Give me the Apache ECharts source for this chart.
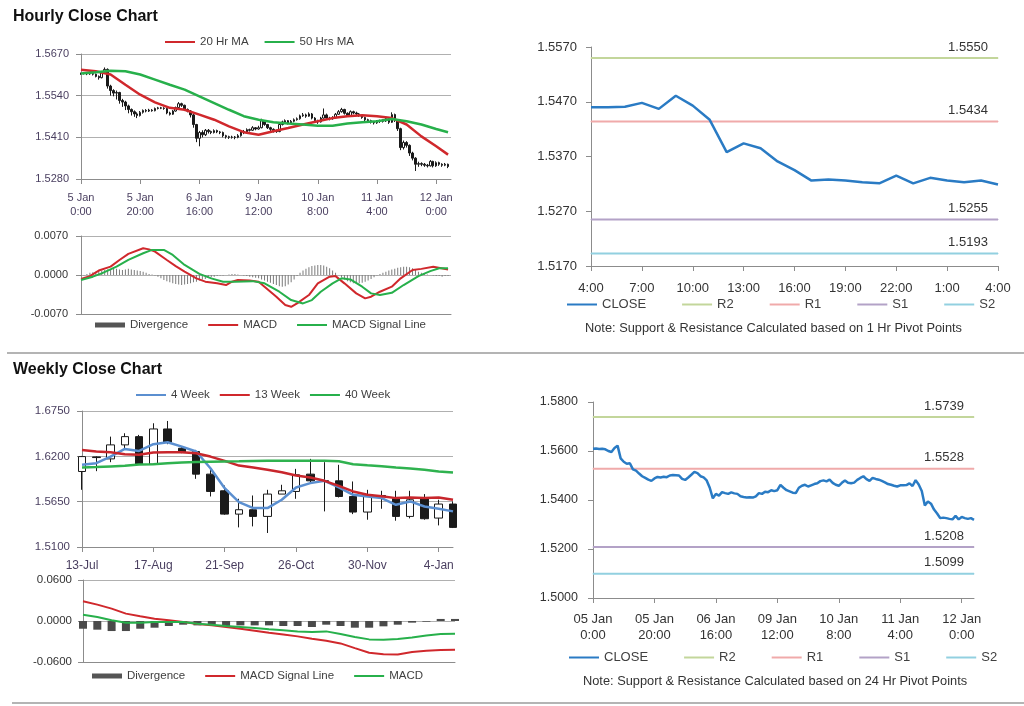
<!DOCTYPE html>
<html><head><meta charset="utf-8">
<script src="https://cdn.jsdelivr.net/npm/echarts@6/dist/echarts.min.js"></script>
<style>html,body{margin:0;padding:0;background:#fff}#c{width:1024px;height:706px}</style>
</head><body><div id="c"></div>
<script>
// ---------------- DATA ----------------
// Hourly closes, 5 Jan 0:00 ... 12 Jan 4:00 (125 trading hours)
const hourlyClose = [1.5609,1.5610,1.5608,1.5609,1.5607,1.5600,1.5596,1.5612,1.5622,1.5570,
 1.5556,1.5548,1.5550,1.5525,1.5520,1.5508,1.5497,1.5490,1.5483,1.5478,
 1.5488,1.5494,1.5492,1.5495,1.5493,1.5500,1.5502,1.5501,1.5500,1.5486,
 1.5482,1.5492,1.5503,1.5515,1.5510,1.5497,1.5492,1.5480,1.5450,1.5407,
 1.5425,1.5418,1.5432,1.5428,1.5425,1.5431,1.5427,1.5425,1.5415,1.5412,
 1.5410,1.5411,1.5410,1.5415,1.5428,1.5425,1.5434,1.5432,1.5440,1.5436,
 1.5440,1.5462,1.5450,1.5440,1.5435,1.5430,1.5428,1.5450,1.5458,1.5462,
 1.5455,1.5460,1.5465,1.5468,1.5477,1.5480,1.5476,1.5483,1.5470,1.5462,
 1.5458,1.5470,1.5480,1.5470,1.5468,1.5471,1.5482,1.5490,1.5497,1.5485,
 1.5478,1.5490,1.5486,1.5483,1.5478,1.5472,1.5465,1.5462,1.5458,1.5455,
 1.5460,1.5460,1.5461,1.5468,1.5457,1.5481,1.5463,1.5437,1.5378,1.5394,
 1.5385,1.5361,1.5345,1.5326,1.5328,1.5326,1.5323,1.5321,1.5335,1.5321,
 1.5331,1.5326,1.5323,1.5326,1.5319];
const hourlyHigh = [1.5612,1.5613,1.5612,1.5611,1.5611,1.5609,1.5603,1.5615,1.5628,1.5625,
 1.5574,1.5560,1.5556,1.5552,1.5530,1.5524,1.5512,1.5500,1.5494,1.5488,
 1.5492,1.5497,1.5498,1.5499,1.5498,1.5503,1.5505,1.5505,1.5504,1.5502,
 1.5490,1.5495,1.5506,1.5520,1.5518,1.5512,1.5500,1.5495,1.5483,1.5452,
 1.5430,1.5432,1.5436,1.5436,1.5431,1.5435,1.5434,1.5430,1.5428,1.5418,
 1.5415,1.5415,1.5414,1.5420,1.5432,1.5433,1.5438,1.5437,1.5445,1.5442,
 1.5446,1.5468,1.5464,1.5452,1.5443,1.5438,1.5434,1.5454,1.5462,1.5466,
 1.5464,1.5464,1.5469,1.5472,1.5481,1.5486,1.5484,1.5488,1.5486,1.5473,
 1.5465,1.5474,1.5500,1.5484,1.5474,1.5476,1.5486,1.5495,1.5502,1.5499,
 1.5488,1.5494,1.5493,1.5490,1.5486,1.5480,1.5474,1.5468,1.5465,1.5461,
 1.5464,1.5465,1.5466,1.5472,1.5470,1.5488,1.5484,1.5466,1.5440,1.5400,
 1.5398,1.5388,1.5365,1.5348,1.5334,1.5332,1.5330,1.5327,1.5339,1.5337,
 1.5335,1.5334,1.5329,1.5330,1.5328];
const hourlyLow = [1.5605,1.5606,1.5604,1.5605,1.5603,1.5597,1.5590,1.5594,1.5610,1.5562,
 1.5540,1.5538,1.5528,1.5515,1.5505,1.5495,1.5485,1.5478,1.5474,1.5470,
 1.5475,1.5484,1.5488,1.5489,1.5490,1.5491,1.5497,1.5498,1.5496,1.5482,
 1.5478,1.5480,1.5490,1.5500,1.5505,1.5492,1.5488,1.5472,1.5440,1.5395,
 1.5382,1.5410,1.5414,1.5422,1.5420,1.5422,1.5423,1.5420,1.5410,1.5406,
 1.5405,1.5406,1.5404,1.5407,1.5412,1.5420,1.5422,1.5428,1.5430,1.5432,
 1.5434,1.5438,1.5446,1.5436,1.5430,1.5425,1.5424,1.5426,1.5447,1.5455,
 1.5450,1.5452,1.5457,1.5462,1.5465,1.5474,1.5471,1.5474,1.5466,1.5458,
 1.5452,1.5456,1.5468,1.5466,1.5463,1.5465,1.5469,1.5480,1.5487,1.5481,
 1.5474,1.5476,1.5482,1.5479,1.5474,1.5468,1.5460,1.5457,1.5453,1.5450,
 1.5452,1.5455,1.5456,1.5458,1.5452,1.5455,1.5458,1.5430,1.5370,1.5372,
 1.5378,1.5352,1.5338,1.5305,1.5318,1.5320,1.5318,1.5316,1.5319,1.5316,
 1.5318,1.5321,1.5318,1.5320,1.5314];
// moving averages, [hour index, value]
const ma20Hr = [[0,1.5621],[5,1.5616],[10,1.5606],[15,1.5574],[20,1.5543],[25,1.5519],[30,1.5502],[35,1.5496],[40,1.5481],[45,1.5465],[50,1.5444],[55,1.5426],[60,1.5418],[65,1.5429],[70,1.5439],[75,1.5450],[80,1.5460],[85,1.5470],[90,1.5476],[95,1.5479],[100,1.5476],[105,1.5470],[110,1.5450],[115,1.5413],[120,1.5382],[124,1.5356]];
const ma50Hr = [[0,1.5609],[5,1.5613],[10,1.5618],[15,1.5616],[20,1.5606],[25,1.5590],[30,1.5574],[35,1.5559],[40,1.5538],[45,1.5517],[50,1.5496],[55,1.5476],[60,1.5465],[65,1.5457],[70,1.5453],[75,1.5450],[80,1.5446],[85,1.5446],[90,1.5453],[95,1.5457],[100,1.5460],[105,1.5467],[110,1.5460],[115,1.5450],[120,1.5436],[124,1.5426]];
// hourly MACD
const hourlyMacd = [[0,-0.0007],[3,-0.0002],[6,0.0008],[10,0.0015],[13,0.0027],[16,0.0038],[21,0.0048],[23,0.0046],[25,0.0042],[29,0.0027],[32,0.0016],[35,0.0006],[39,-0.0006],[42,-0.0012],[46,-0.0015],[49,-0.0018],[51,-0.0012],[53,-0.0009],[57,-0.0010],[60,-0.0012],[62,-0.0021],[66,-0.0039],[69,-0.0054],[71,-0.0057],[73,-0.0051],[77,-0.0036],[80,-0.0015],[84,-0.0003],[86,-0.0002],[89,-0.0015],[93,-0.0033],[96,-0.0042],[98,-0.0039],[101,-0.0030],[105,-0.0021],[108,-0.0006],[112,0.0009],[115,0.0011],[119,0.0015],[124,0.0010]];
const hourlySignal = [[0,-0.0009],[4,-0.0003],[7,0.0003],[12,0.0015],[16,0.0027],[21,0.0039],[24,0.0045],[28,0.0045],[31,0.0036],[35,0.0018],[40,0.0002],[44,-0.0006],[48,-0.0012],[52,-0.0012],[58,-0.0011],[62,-0.0015],[67,-0.0030],[71,-0.0045],[75,-0.0051],[78,-0.0045],[81,-0.0030],[85,-0.0015],[88,-0.0006],[91,-0.0008],[95,-0.0021],[98,-0.0033],[101,-0.0036],[105,-0.0032],[109,-0.0018],[114,-0.0002],[118,0.0007],[121,0.0012],[124,0.0012]];
const hourlyDivergence = [-0.0002,-0.0001,0.0002,0.0004,0.0005,0.0006,0.0007,0.0008,0.0009,0.0010,
 0.0010,0.0011,0.0011,0.0010,0.0009,0.0010,0.0011,0.0010,0.0009,0.0008,
 0.0007,0.0006,0.0004,0.0002,0.0001,-0.0001,-0.0003,-0.0006,-0.0009,-0.0011,
 -0.0013,-0.0015,-0.0016,-0.0017,-0.0018,-0.0017,-0.0016,-0.0015,-0.0013,-0.0012,
 -0.0010,-0.0008,-0.0007,-0.0005,-0.0004,-0.0003,-0.0002,-0.0001,-0.0001,0.0000,
 0.0001,0.0002,0.0002,0.0001,0.0000,-0.0001,-0.0002,-0.0003,-0.0004,-0.0005,
 -0.0006,-0.0008,-0.0010,-0.0012,-0.0014,-0.0016,-0.0018,-0.0020,-0.0021,-0.0020,
 -0.0017,-0.0013,-0.0008,-0.0002,0.0004,0.0008,0.0011,0.0014,0.0016,0.0017,
 0.0018,0.0018,0.0017,0.0015,0.0012,0.0008,0.0004,0.0000,-0.0004,-0.0008,
 -0.0011,-0.0013,-0.0015,-0.0015,-0.0015,-0.0014,-0.0012,-0.0010,-0.0007,-0.0004,
 -0.0001,0.0002,0.0004,0.0006,0.0008,0.0010,0.0011,0.0013,0.0014,0.0015,
 0.0015,0.0014,0.0012,0.0009,0.0006,0.0004,0.0002,0.0001,0.0000,-0.0001,
 -0.0002,-0.0002,-0.0003,-0.0002,-0.0002];
const hourlyTickLabels = ['5 Jan\n0:00','5 Jan\n20:00','6 Jan\n16:00','9 Jan\n12:00','10 Jan\n8:00','11 Jan\n4:00','12 Jan\n0:00'];
const hourlyTicks = [1.5280,1.5410,1.5540,1.5670];
const hourlyMacdTicks = [-0.0070,0.0000,0.0070];

// 1 Hr pivot panel (last 25 hours of hourlyClose)
const pivot1hStart = 100;
const pivot1hTickLabels = ['4:00','7:00','10:00','13:00','16:00','19:00','22:00','1:00','4:00'];
const pivot1hTicks = [1.5170,1.5270,1.5370,1.5470,1.5570];
const pivotNames = ['R2','R1','S1','S2'];
const pivot1hValues = [1.5550,1.5434,1.5255,1.5193];

// 24 Hr pivot panel
const pivot24hTickLabels = ['05 Jan\n0:00','05 Jan\n20:00','06 Jan\n16:00','09 Jan\n12:00','10 Jan\n8:00','11 Jan\n4:00','12 Jan\n0:00'];
const pivot24hTicks = [1.5000,1.5200,1.5400,1.5600,1.5800];
const pivot24hValues = [1.5739,1.5528,1.5208,1.5099];

// Weekly candles 13-Jul ... 11-Jan
const weeklyOpen  = [1.6016,1.6193,1.6169,1.6339,1.6439,1.6105,1.6532,1.6298,1.6258,1.5984,1.5782,1.5499,1.5552,1.5471,1.5742,1.5774,1.5984,1.5903,1.5903,1.5713,1.5524,1.5725,1.5685,1.5471,1.5685,1.5451,1.5621];
const weeklyClose = [1.6197,1.6185,1.6339,1.6439,1.6105,1.6532,1.6371,1.6250,1.5984,1.5774,1.5499,1.5552,1.5471,1.5742,1.5782,1.5976,1.5903,1.5900,1.5713,1.5524,1.5713,1.5710,1.5471,1.5673,1.5443,1.5621,1.5338];
const weeklyLow   = [1.5794,1.6020,1.6129,1.6298,1.6097,1.6105,1.6347,1.6238,1.5927,1.5713,1.5491,1.5338,1.5350,1.5270,1.5742,1.5685,1.5875,1.5532,1.5701,1.5499,1.5431,1.5564,1.5419,1.5447,1.5431,1.5362,1.5330];
const weeklyHigh  = [1.6205,1.6200,1.6439,1.6480,1.6460,1.6601,1.6629,1.6318,1.6278,1.6048,1.5846,1.5685,1.5725,1.5794,1.5855,1.6048,1.6169,1.6129,1.6097,1.5895,1.5794,1.5782,1.5782,1.5782,1.5742,1.5673,1.5653];
const week4  = [1.6097,1.6117,1.6197,1.6290,1.6266,1.6347,1.6371,1.6318,1.6258,1.6056,1.5814,1.5645,1.5572,1.5572,1.5673,1.5822,1.5875,1.5903,1.5822,1.5733,1.5713,1.5693,1.5612,1.5653,1.5592,1.5564,1.5532];
const week13 = [1.6278,1.6258,1.6250,1.6226,1.6218,1.6246,1.6250,1.6250,1.6238,1.6197,1.6145,1.6088,1.6064,1.6036,1.6008,1.5967,1.5943,1.5903,1.5842,1.5774,1.5733,1.5717,1.5693,1.5701,1.5693,1.5701,1.5673];
const week40 = [1.6064,1.6070,1.6078,1.6085,1.6100,1.6105,1.6115,1.6125,1.6130,1.6135,1.6138,1.6140,1.6143,1.6145,1.6147,1.6147,1.6147,1.6145,1.6140,1.6105,1.6092,1.6080,1.6064,1.6052,1.6036,1.6016,1.6004];
const weeklySignal = [0.0289,0.0240,0.0181,0.0108,0.0069,0.0034,0.0010,-0.0015,-0.0044,-0.0064,-0.0088,-0.0113,-0.0142,-0.0171,-0.0196,-0.0225,-0.0260,-0.0289,-0.0328,-0.0397,-0.0465,-0.0485,-0.0490,-0.0455,-0.0436,-0.0426,-0.0421];
const weeklyMacd = [0.0093,0.0059,0.0010,-0.0024,-0.0024,-0.0015,-0.0015,-0.0015,-0.0039,-0.0054,-0.0073,-0.0088,-0.0103,-0.0122,-0.0137,-0.0152,-0.0162,-0.0152,-0.0191,-0.0235,-0.0269,-0.0274,-0.0264,-0.0240,-0.0211,-0.0191,-0.0186];
const weeklyDivergence = [-0.0113,-0.0127,-0.0147,-0.0147,-0.0113,-0.0098,-0.0073,-0.0054,-0.0064,-0.0064,-0.0073,-0.0064,-0.0064,-0.0064,-0.0073,-0.0073,-0.0088,-0.0054,-0.0073,-0.0098,-0.0098,-0.0078,-0.0054,-0.0024,-0.0010,0.0030,0.0030];
const weeklyTickLabels = ['13-Jul','17-Aug','21-Sep','26-Oct','30-Nov','4-Jan'];
const weeklyTicks = [1.5100,1.5650,1.6200,1.6750];
const weeklyMacdTicks = [-0.0600,0.0000,0.0600];

// ---------------- STYLE ----------------
const FONT = '"Liberation Sans", Arial, sans-serif';
const AX = '#8c8c8c', GRIDC = '#b0b0b0', TXT = '#404040', LTXT = '#4a3f60';
const RED = '#d0282c', GREEN = '#27b04b', BLUE = '#2a7bc4';
const pivotColors = ['#c3d69b','#f0aaaa','#b3a2c7','#92d0e0'];

function yAxis(gridIndex, ticks, opt) {
  return {
    type:'value', gridIndex, min: ticks[0], max: ticks[ticks.length-1], scale:true,
    axisLine:{show:true, lineStyle:{color:AX}},
    axisTick:{show:true, length:5, customValues: ticks, lineStyle:{color:AX}},
    axisLabel:{customValues: ticks, formatter: v => v.toFixed(4), color: opt.color, fontSize: opt.fontSize, margin: opt.margin, fontFamily: FONT},
    splitLine:{show: !!opt.split, lineStyle:{color:GRIDC}}
  };
}
function xAxis(gridIndex, n, labels, step, opt) {
  return {
    type:'category', gridIndex, boundaryGap:false,
    data: Array.from({length:n}, (_, i) => String(i)),
    axisLine:{show:true, onZero:false, lineStyle:{color:AX}},
    axisTick:{show: !!labels, interval: step-1, length:5, lineStyle:{color:AX}},
    axisLabel:{show: !!labels, interval: step-1,
      formatter: v => labels ? (labels[parseInt(v,10)/step] || '') : '',
      color: opt.color, fontSize: opt.fontSize, lineHeight: opt.lineHeight, margin: opt.margin, fontFamily: FONT},
    splitLine:{show:false}
  };
}
function line(name, xi, yi, data, color, width) {
  return {name, type:'line', xAxisIndex:xi, yAxisIndex:yi, data, color, symbol:'none', silent:true,
    lineStyle:{color, width}, z:3};
}
function pivots(values, xi, yi, lastIndex, fontSize) {
  return pivotNames.map((n, k) => ({
    name:n, type:'line', xAxisIndex:xi, yAxisIndex:yi, color: pivotColors[k], silent:true,
    symbol:'circle', symbolSize:1, showSymbol:true, z:2,
    itemStyle:{color: pivotColors[k]}, lineStyle:{color: pivotColors[k], width:2},
    data:[[0, values[k]], {value:[lastIndex, values[k]],
      label:{show:true, position:'top', distance:4, offset:[-30,0], formatter: values[k].toFixed(4), fontSize, color:'#333', fontFamily:FONT}}]
  }));
}
function legend(left, top, gap, fontSize, items) {
  return {left, top, itemGap: gap, itemWidth: 30, itemHeight: 6, padding: 0, selectedMode: false, symbolKeepAspect: true,
    textStyle:{fontSize, color:TXT, fontFamily:FONT},
    data: items.map(it => ({name: it[0], icon: it[2] ? 'path://M0,0H30V5H0Z' : 'path://M0,0H30V2H0Z',
      itemStyle:{color: it[1], borderWidth:0}}))};
}
const candleStyle = {color:'#ffffff', color0:'#1a1a1a', borderColor:'#1a1a1a', borderColor0:'#1a1a1a', borderWidth:1};

const hourlyCandles = hourlyClose.map((c, i) => [i ? hourlyClose[i-1] : c, c, hourlyLow[i], hourlyHigh[i]]);
const weeklyCandles = weeklyClose.map((c, i) => [weeklyOpen[i], c, weeklyLow[i], weeklyHigh[i]]);
const nH = hourlyClose.length;

const option = {
  animation:false,
  backgroundColor:'#ffffff',
  title:[
    {text:'Hourly Close Chart', left:13, top:9, padding:0, textStyle:{fontSize:16, fontWeight:'bold', color:'#111', fontFamily:FONT}},
    {text:'Weekly Close Chart', left:13, top:362, padding:0, textStyle:{fontSize:16, fontWeight:'bold', color:'#111', fontFamily:FONT}},
    {text:'Note: Support & Resistance Calculated based on 1 Hr Pivot Points', left:585, top:322, padding:0, textStyle:{fontSize:12.8, fontWeight:'normal', color:'#333', fontFamily:FONT}},
    {text:'Note: Support & Resistance Calculated based on 24 Hr Pivot Points', left:583, top:675, padding:0, textStyle:{fontSize:12.8, fontWeight:'normal', color:'#333', fontFamily:FONT}}
  ],
  graphic:[
    {type:'line', shape:{x1:7, y1:353, x2:1024, y2:353}, style:{stroke:'#b4b4b4', lineWidth:2}},
    {type:'line', shape:{x1:12, y1:703, x2:1024, y2:703}, style:{stroke:'#b4b4b4', lineWidth:2}}
  ],
  legend:[
    legend(165, 36, 16, 11.5, [['20 Hr MA', RED], ['50 Hrs MA', GREEN]]),
    legend(95, 319, 20, 11.5, [['Divergence', '#555555', true], ['MACD', RED], ['MACD Signal Line', GREEN]]),
    legend(567, 298, 36, 13, [['CLOSE', BLUE], ['R2', pivotColors[0]], ['R1', pivotColors[1]], ['S1', pivotColors[2]], ['S2', pivotColors[3]]]),
    legend(136, 389, 10, 11.5, [['4 Week', '#5b8fd0'], ['13 Week', RED], ['40 Week', GREEN]]),
    legend(92, 670, 20, 11.5, [['Divergence', '#555555', true], ['MACD Signal Line', RED], ['MACD', GREEN]]),
    legend(569, 651, 36, 13, [['CLOSE', BLUE], ['R2', pivotColors[0]], ['R1', pivotColors[1]], ['S1', pivotColors[2]], ['S2', pivotColors[3]]])
  ],
  grid:[
    {left:81, top:54, width:370, height:125},
    {left:81, top:236, width:370, height:78},
    {left:591, top:47, width:407, height:219},
    {left:82, top:411, width:371, height:136},
    {left:83, top:580, width:372, height:82},
    {left:593, top:402, width:381, height:196}
  ],
  xAxis:[
    xAxis(0, nH + 1, hourlyTickLabels, 20, {color:LTXT, fontSize:11, lineHeight:14, margin:12}),
    xAxis(1, nH + 1, null, 20, {}),
    xAxis(2, nH - pivot1hStart, pivot1hTickLabels, 3, {color:'#333', fontSize:13, lineHeight:16, margin:14}),
    xAxis(3, weeklyClose.length, weeklyTickLabels, 5, {color:LTXT, fontSize:12, lineHeight:14, margin:12}),
    xAxis(4, weeklyClose.length, null, 5, {}),
    xAxis(5, nH, pivot24hTickLabels, 20, {color:'#333', fontSize:13, lineHeight:16, margin:13})
  ],
  yAxis:[
    yAxis(0, hourlyTicks, {color:LTXT, fontSize:11, split:true, margin:12}),
    yAxis(1, hourlyMacdTicks, {color:'#333', fontSize:11, split:true, margin:13}),
    yAxis(2, pivot1hTicks, {color:'#333', fontSize:13, margin:14}),
    yAxis(3, weeklyTicks, {color:LTXT, fontSize:11.5, split:true, margin:12}),
    yAxis(4, weeklyMacdTicks, {color:'#333', fontSize:11.5, split:true, margin:11}),
    yAxis(5, pivot24hTicks, {color:'#333', fontSize:12.5, margin:15})
  ],
  series:[
    {name:'Hourly', type:'candlestick', xAxisIndex:0, yAxisIndex:0, data:hourlyCandles, barWidth:2, clip:true, silent:true, itemStyle:candleStyle, z:2},
    line('20 Hr MA', 0, 0, ma20Hr, RED, 2.5),
    line('50 Hrs MA', 0, 0, ma50Hr, GREEN, 2.5),
    {name:'Divergence', type:'bar', xAxisIndex:1, yAxisIndex:1, data:hourlyDivergence, barWidth:1, color:'#7a7a7a', silent:true},
    line('MACD', 1, 1, hourlyMacd, RED, 2),
    line('MACD Signal Line', 1, 1, hourlySignal, GREEN, 2),
    line('CLOSE', 2, 2, hourlyClose.slice(pivot1hStart), BLUE, 2.5),
    ...pivots(pivot1hValues, 2, 2, nH - 1 - pivot1hStart, 13),
    {name:'Weekly', type:'candlestick', xAxisIndex:3, yAxisIndex:3, data:weeklyCandles, barWidth:8, clip:true, silent:true, itemStyle:candleStyle, z:2},
    line('4 Week', 3, 3, week4, '#5b8fd0', 2.5),
    line('13 Week', 3, 3, week13, '#c8262c', 2.5),
    line('40 Week', 3, 3, week40, '#2fb24f', 2.5),
    {name:'Divergence', type:'bar', xAxisIndex:4, yAxisIndex:4, data:weeklyDivergence, barWidth:8, color:'#4a4a4a', silent:true},
    line('MACD Signal Line', 4, 4, weeklySignal, RED, 2),
    line('MACD', 4, 4, weeklyMacd, GREEN, 2),
    line('CLOSE', 5, 5, hourlyClose, BLUE, 2.5),
    ...pivots(pivot24hValues, 5, 5, nH - 1, 13)
  ]
};
const chart = echarts.init(document.getElementById('c'), null, {renderer:'canvas'});
chart.setOption(option);
</script></body></html>
